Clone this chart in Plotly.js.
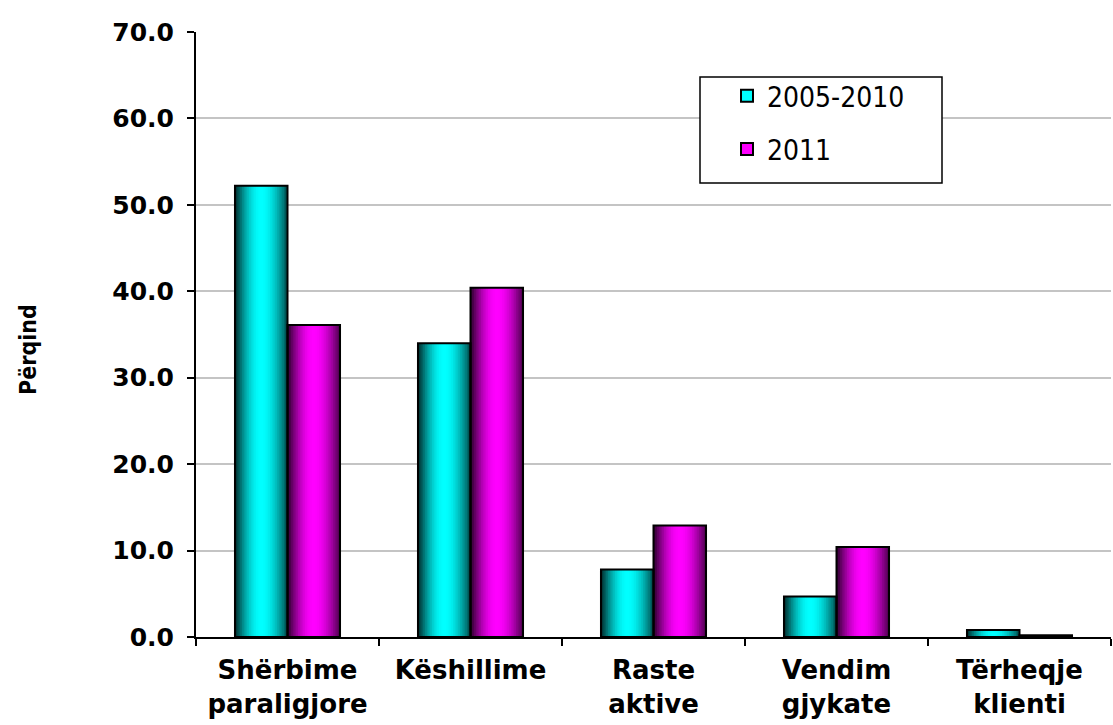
<!DOCTYPE html>
<html>
<head>
<meta charset="utf-8">
<script src="https://cdn.plot.ly/plotly-3.0.1.min.js"></script>
<style>
  html, body { margin: 0; padding: 0; background: #ffffff; }
  #chart { width: 1113px; height: 725px; }
</style>
</head>
<body>
<div id="chart"></div>
<script>
// ---- Data ----
const categories = ["Shërbime<br>paraligjore", "Këshillime", "Raste<br>aktive", "Vendim<br>gjykate", "Tërheqje<br>klienti"];
const seriesNames = ["2005-2010", "2011"];
const values2005_2010 = [52.2, 34.0, 7.8, 4.7, 0.8];
const values2011 = [36.1, 40.4, 12.9, 10.4, 0.2];
const yTickValues = [0, 10, 20, 30, 40, 50, 60, 70];
const yAxisTitle = "Përqind";

// ---- Styling ----
const seriesData = [values2005_2010, values2011];
const baseColors = [[0, 255, 255], [255, 0, 255]];
const barWidth = 0.287;   // category units
const strips = 30;

function shade(rgb, t) {
  // cylinder-like shading: dark at the edges, bright in the middle
  let b;
  if (t < 0.5) b = 0.16 + 0.84 * Math.sin((t / 0.5) * Math.PI / 2);
  else b = 0.30 + 0.70 * Math.cos(((t - 0.5) / 0.5) * Math.PI / 2);
  const c = rgb.map(v => Math.round(v * b));
  return `rgb(${c[0]},${c[1]},${c[2]})`;
}

const traces = [];
seriesData.forEach((vals, s) => {
  const start = -barWidth + s * barWidth;
  for (let k = 0; k < strips; k++) {
    const t = (k + 0.5) / strips;
    const w = barWidth / strips;
    const extra = k < strips - 1 ? w * 0.6 : 0;
    traces.push({
      type: "bar",
      x: categories,
      y: vals,
      offset: start + k * w,
      width: w + extra,
      marker: { color: shade(baseColors[s], t), line: { width: 0 } },
      showlegend: false,
      hoverinfo: "skip"
    });
  }
});
// outlines on top
seriesData.forEach((vals, s) => {
  traces.push({
    type: "bar",
    x: categories,
    y: vals,
    offset: -barWidth + s * barWidth,
    width: barWidth,
    marker: { color: "rgba(0,0,0,0)", line: { color: "#000000", width: 2 } },
    name: seriesNames[s],
    showlegend: false,
    hovertemplate: "%{x}: %{y:.1f}<extra>" + seriesNames[s] + "</extra>"
  });
});
// legend entries
seriesNames.forEach((n, s) => {
  traces.push({
    type: "bar",
    x: [categories[0]],
    y: [null],
    name: n,
    legendgroup: "g" + s,
    marker: { color: `rgb(${baseColors[s].join(",")})`, line: { color: "#000000", width: 2 } },
    showlegend: true,
    hoverinfo: "skip"
  });
});

const L = 196, R = 1111, T = 32, B = 637;
const px = x => (x - L) / (R - L);
const py = y => (B - y) / (B - T);

const layout = {
  width: 1113,
  height: 725,
  margin: { l: L, r: 1113 - R, t: T, b: 725 - B, pad: 0 },
  paper_bgcolor: "#ffffff",
  plot_bgcolor: "#ffffff",
  barmode: "overlay",
  showlegend: true,
  font: { family: "DejaVu Sans, Verdana, sans-serif", color: "#000000" },
  xaxis: {
    type: "category",
    range: [-0.5, 4.5],
    showline: true,
    linecolor: "#000000",
    linewidth: 2,
    ticks: "outside",
    tickson: "boundaries",
    ticklen: 7,
    tickwidth: 2,
    tickcolor: "#000000",
    ticklabelstandoff: 9,
    showgrid: false,
    tickfont: { family: "DejaVu Sans, Verdana, sans-serif", size: 26, color: "#000000", weight: "bold" },
    fixedrange: true
  },
  yaxis: {
    range: [0, 70],
    tickvals: yTickValues,
    tickformat: ".1f",
    showline: true,
    linecolor: "#000000",
    linewidth: 2,
    ticks: "outside",
    ticklen: 7,
    tickwidth: 2,
    tickcolor: "#000000",
    ticklabelstandoff: 8,
    showgrid: true,
    gridcolor: "#c4c4c4",
    gridwidth: 2,
    zeroline: false,
    tickfont: { family: "DejaVu Sans, Verdana, sans-serif", size: 25, color: "#000000", weight: "bold" },
    fixedrange: true
  },
  legend: {
    x: px(727),
    y: py(71),
    xanchor: "left",
    yanchor: "top",
    bgcolor: "rgba(0,0,0,0)",
    borderwidth: 0,
    tracegroupgap: 14,
    font: { family: "DejaVu Sans Condensed, Liberation Sans, sans-serif", size: 28, color: "#000000" }
  },
  shapes: [{
    type: "rect",
    xref: "paper", yref: "paper",
    x0: px(700), x1: px(942),
    y0: py(183), y1: py(77),
    line: { color: "#000000", width: 1.5 },
    fillcolor: "#ffffff",
    layer: "above"
  }],
  annotations: [{
    text: yAxisTitle,
    xref: "paper", yref: "paper",
    x: px(28), y: py(350),
    xanchor: "center", yanchor: "middle",
    textangle: -90,
    showarrow: false,
    font: { family: "DejaVu Sans Condensed, DejaVu Sans, sans-serif", size: 23, color: "#000000", weight: "bold" }
  }]
};

Plotly.newPlot("chart", traces, layout, { displayModeBar: false });
</script>
</body>
</html>
